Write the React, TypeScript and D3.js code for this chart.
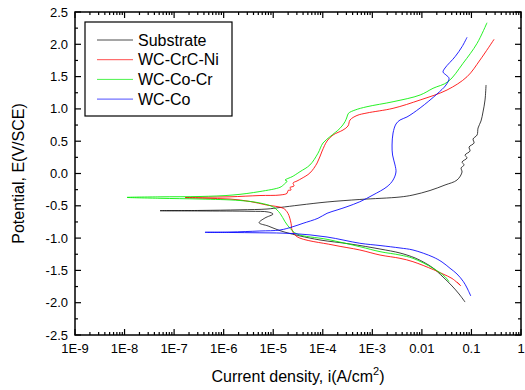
import React, { useEffect, useRef } from 'react';
import * as d3 from 'd3';

const WIDTH = 525;
const HEIGHT = 390;

const seriesNames = ['Substrate', 'WC-CrC-Ni', 'WC-Co-Cr', 'WC-Co'];
const seriesColors = ['#000000', '#ff0000', '#00ee00', '#0000ff'];

const xTickValues = [1e-9, 1e-8, 1e-7, 1e-6, 1e-5, 1e-4, 1e-3, 1e-2, 1e-1, 1];
const xTickLabels = ['1E-9', '1E-8', '1E-7', '1E-6', '1E-5', '1E-4', '1E-3', '0.01', '0.1', '1'];
const yTickValues = [-2.5, -2.0, -1.5, -1.0, -0.5, 0, 0.5, 1.0, 1.5, 2.0, 2.5];
const yTickLabels = ['-2.5', '-2.0', '-1.5', '-1.0', '-0.5', '0.0', '0.5', '1.0', '1.5', '2.0', '2.5'];

// [current density (A/cm2), potential (V/SCE)], cathodic end -> Ecorr -> anodic end
const substrate: [number, number][] = [
  [0.0743, -1.99], [0.0562, -1.865], [0.0406, -1.741], [0.0267, -1.602], [0.0168, -1.463],
  [0.0116, -1.385], [7.3e-3, -1.308], [3.62e-3, -1.231], [1.43e-3, -1.169], [3.55e-4, -1.091],
  [8.8e-5, -1.029], [3.47e-5, -0.967], [2.18e-5, -0.929], [1.37e-5, -0.885], [7.9e-6, -0.813],
  [5.2e-6, -0.762], [6.8e-6, -0.689], [9.9e-6, -0.627], [7.9e-6, -0.596], [3.4e-6, -0.585],
  [3.33e-7, -0.58], [5.2e-8, -0.576],
  [3.33e-7, -0.572], [2.14e-6, -0.562], [7.5e-6, -0.55], [1.37e-5, -0.526], [3.47e-5, -0.488],
  [1.22e-4, -0.441], [5.6e-4, -0.402], [3.62e-3, -0.364], [6.6e-3, -0.333], [0.0146, -0.263],
  [0.0293, -0.178], [0.0512, -0.101], [0.0646, 0.023], [0.0617, 0.085], [0.071, 0.132],
  [0.0646, 0.178], [0.0815, 0.24], [0.0743, 0.286], [0.0937, 0.348], [0.0895, 0.41],
  [0.113, 0.472], [0.1077, 0.534], [0.13, 0.596], [0.136, 0.704], [0.156, 0.813],
  [0.171, 0.952], [0.188, 1.138], [0.197, 1.37],
];

const wcCrcNi: [number, number][] = [
  [0.0512, -1.68], [0.0603, -1.734], [0.0406, -1.625], [0.0267, -1.556], [0.0168, -1.486],
  [6.6e-3, -1.365], [3.62e-3, -1.313], [1.43e-3, -1.262], [5.6e-4, -1.184], [1.61e-4, -1.107],
  [3.02e-5, -0.978], [2.4e-5, -0.875], [2.29e-5, -0.771], [1.98e-5, -0.616], [1.6e-5, -0.539],
  [7.4e-6, -0.488], [3.4e-6, -0.433], [1.34e-6, -0.395], [4.2e-7, -0.384], [1.66e-7, -0.373],
  [4.2e-7, -0.367], [1.34e-6, -0.361], [5.4e-6, -0.341], [1.37e-5, -0.333], [1.9e-5, -0.307],
  [1.99e-5, -0.263], [2.29e-5, -0.255], [2.18e-5, -0.217], [2.63e-5, -0.193], [2.51e-5, -0.147],
  [3.02e-5, -0.116], [3.8e-5, -0.074], [5.5e-5, 0.008], [7.7e-5, 0.163], [9.7e-5, 0.348],
  [1.22e-4, 0.503], [1.61e-4, 0.596], [2.56e-4, 0.673], [3.23e-4, 0.735], [3.55e-4, 0.828],
  [4.9e-4, 0.898], [7.8e-4, 0.937], [2.62e-3, 1.009], [9.2e-3, 1.138], [0.0322, 1.293],
  [0.0815, 1.498], [0.149, 1.757], [0.286, 2.077],
];

const wcCoCr: [number, number][] = [
  [0.0353, -1.675], [0.0293, -1.598], [0.0168, -1.467], [6.6e-3, -1.313], [3.62e-3, -1.262],
  [1.43e-3, -1.21], [5.6e-4, -1.133], [1.22e-4, -1.019], [3.02e-5, -0.937], [2.18e-5, -0.848],
  [1.73e-5, -0.746], [1.37e-5, -0.616], [1.0e-5, -0.519], [5.4e-6, -0.457], [2.14e-6, -0.418],
  [3.33e-7, -0.395], [5.2e-8, -0.384], [1.12e-8, -0.37],
  [5.2e-8, -0.361], [3.33e-7, -0.356], [1.54e-6, -0.333], [5.4e-6, -0.279], [1.37e-5, -0.214],
  [1.6e-5, -0.178], [1.9e-5, -0.116], [1.73e-5, -0.101], [2.08e-5, -0.07], [2.4e-5, -0.05],
  [3.47e-5, 0.028], [5.5e-5, 0.132], [8.0e-5, 0.313], [1.01e-4, 0.472], [1.4e-4, 0.57],
  [2.23e-4, 0.7], [2.81e-4, 0.802], [3.08e-4, 0.875], [3.3e-4, 0.932], [4.5e-4, 0.983],
  [7.8e-4, 1.034], [2.62e-3, 1.111], [9.2e-3, 1.215], [0.0168, 1.319], [0.0337, 1.421],
  [0.0677, 1.706], [0.13, 2.015], [0.206, 2.334],
];

const wcCo: [number, number][] = [
  [0.097, -1.896], [0.0815, -1.772], [0.069, -1.675], [0.0512, -1.556], [0.037, -1.467],
  [0.0255, -1.37], [0.0168, -1.293], [6.6e-3, -1.184], [3.62e-3, -1.153], [1.43e-3, -1.115],
  [5.6e-4, -1.08], [1.22e-4, -0.983], [2.51e-5, -0.929], [5.4e-6, -0.918], [1.34e-6, -0.913],
  [4.2e-7, -0.91],
  [1.34e-6, -0.906], [5.4e-6, -0.89], [1.37e-5, -0.875], [2.51e-5, -0.823], [4.0e-5, -0.771],
  [8.0e-5, -0.693], [1.22e-4, -0.616], [1.94e-4, -0.565], [3.08e-4, -0.514], [5.6e-4, -0.437],
  [1.03e-3, -0.333], [1.98e-3, -0.204], [2.62e-3, -0.101], [3.0e-3, 0.023], [2.87e-3, 0.132],
  [2.56e-3, 0.286], [2.5e-3, 0.441], [2.62e-3, 0.627], [3.0e-3, 0.766], [3.62e-3, 0.828],
  [5.0e-3, 0.875], [9.2e-3, 1.014], [0.0202, 1.231], [0.0307, 1.37], [0.0353, 1.474],
  [0.0307, 1.525], [0.0267, 1.571], [0.0293, 1.633], [0.0467, 1.808], [0.0646, 1.963],
  [0.0815, 2.108],
];

const seriesData = [substrate, wcCrcNi, wcCoCr, wcCo];

const FONT = '"Liberation Sans", Arial, sans-serif';

const PolarizationChart = () => {
  const svgRef = useRef<SVGSVGElement>(null);

  useEffect(() => {
    if (!svgRef.current) return;
    const svg = d3.select(svgRef.current);
    svg.selectAll('*').remove();

    const margin = { top: 12, right: 4, bottom: 55, left: 75 };
    const x0 = margin.left;
    const x1 = WIDTH - margin.right;
    const y0 = HEIGHT - margin.bottom;
    const y1 = margin.top;

    const x = d3.scaleLog().domain([1e-9, 1]).range([x0, x1]);
    const y = d3.scaleLinear().domain([-2.5, 2.5]).range([y0, y1]);

    svg.append('rect').attr('width', WIDTH).attr('height', HEIGHT).attr('fill', '#fff');

    // curves
    const line = d3.line<[number, number]>()
      .x(d => x(d[0]))
      .y(d => y(d[1]))
      .curve(d3.curveCatmullRom.alpha(0.5));

    seriesData.forEach((s, i) => {
      svg.append('path')
        .attr('d', line(s))
        .attr('fill', 'none')
        .attr('stroke', seriesColors[i])
        .attr('stroke-width', 1)
        .attr('stroke-opacity', i === 0 ? 0.75 : 0.85);
    });

    const ax = svg.append('g').attr('stroke', '#000').attr('stroke-width', 1.2);

    // x ticks (inward, bottom and top)
    const decades = new Set(xTickValues.map(v => Math.round(Math.log10(v))));
    x.ticks().forEach(v => {
      const isMajor = decades.has(Math.round(Math.log10(v))) && Math.abs(Math.log10(v) - Math.round(Math.log10(v))) < 1e-9;
      const len = isMajor ? 6 : 3;
      const px = x(v);
      ax.append('line').attr('x1', px).attr('x2', px).attr('y1', y0).attr('y2', y0 - len);
      ax.append('line').attr('x1', px).attr('x2', px).attr('y1', y1).attr('y2', y1 + len);
    });

    // y ticks (inward, left and right)
    d3.range(-2.5, 2.501, 0.25).forEach((v, i) => {
      const len = i % 2 === 0 ? 6 : 3;
      const py = y(v);
      ax.append('line').attr('x1', x0).attr('x2', x0 + len).attr('y1', py).attr('y2', py);
      ax.append('line').attr('x1', x1).attr('x2', x1 - len).attr('y1', py).attr('y2', py);
    });

    // frame
    svg.append('rect')
      .attr('x', x0).attr('y', y1)
      .attr('width', x1 - x0).attr('height', y0 - y1)
      .attr('fill', 'none').attr('stroke', '#000').attr('stroke-width', 1.5);

    // tick labels
    svg.append('g').selectAll('text')
      .data(xTickValues)
      .enter()
      .append('text')
      .attr('x', d => x(d))
      .attr('y', y0 + 18)
      .attr('text-anchor', 'middle')
      .attr('font-family', FONT)
      .attr('font-size', 13)
      .attr('fill', '#000')
      .text((d, i) => xTickLabels[i]);

    svg.append('g').selectAll('text')
      .data(yTickValues)
      .enter()
      .append('text')
      .attr('x', x0 - 7)
      .attr('y', d => y(d))
      .attr('dy', '0.35em')
      .attr('text-anchor', 'end')
      .attr('font-family', FONT)
      .attr('font-size', 13)
      .attr('fill', '#000')
      .text((d, i) => yTickLabels[i]);

    // axis titles
    const xt = svg.append('text')
      .attr('x', (x0 + x1) / 2)
      .attr('y', 382)
      .attr('text-anchor', 'middle')
      .attr('font-family', FONT)
      .attr('font-size', 16)
      .attr('fill', '#000');
    xt.append('tspan').text('Current density, i(A/cm');
    xt.append('tspan').attr('font-size', 11).attr('dy', -7).text('2');
    xt.append('tspan').attr('dy', 7).text(')');

    svg.append('text')
      .attr('transform', `translate(24, ${(y0 + y1) / 2}) rotate(-90)`)
      .attr('text-anchor', 'middle')
      .attr('font-family', FONT)
      .attr('font-size', 16)
      .attr('fill', '#000')
      .text('Potential, E(V/SCE)');

    // legend
    const lg = svg.append('g');
    lg.append('rect')
      .attr('x', 85).attr('y', 22)
      .attr('width', 147).attr('height', 94)
      .attr('fill', '#fff').attr('stroke', '#000').attr('stroke-width', 1.2);
    seriesNames.forEach((name, i) => {
      const ry = 40 + i * 19.7;
      lg.append('line')
        .attr('x1', 97).attr('x2', 133)
        .attr('y1', ry).attr('y2', ry)
        .attr('stroke', seriesColors[i])
        .attr('stroke-width', 1)
        .attr('stroke-opacity', 0.7);
      lg.append('text')
        .attr('x', 138).attr('y', ry)
        .attr('dy', '0.35em')
        .attr('font-family', FONT)
        .attr('font-size', 16)
        .attr('fill', '#000')
        .text(name);
    });
  }, []);

  return (
    <svg
      ref={svgRef}
      width={WIDTH}
      height={HEIGHT}
      style={{ position: 'absolute', left: 0, top: 0 }}
    />
  );
};

export default function App() {
  return <PolarizationChart />;
}
